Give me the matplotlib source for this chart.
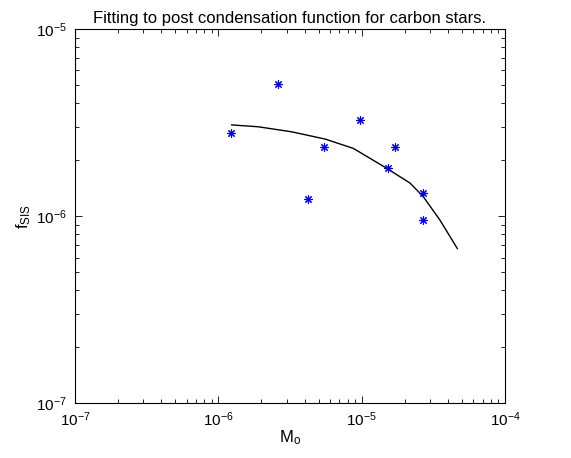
import numpy as np
import matplotlib
matplotlib.use("Agg")
import matplotlib.pyplot as plt

plt.rcParams['font.family'] = ['Liberation Sans', 'DejaVu Sans']
plt.rcParams['mathtext.fontset'] = 'custom'
plt.rcParams['mathtext.rm'] = 'Liberation Sans'
plt.rcParams['mathtext.it'] = 'Liberation Sans:italic'
plt.rcParams['mathtext.bf'] = 'Liberation Sans:bold'

# measured points
m_obs = [1.23e-6, 2.62e-6, 5.44e-6, 4.25e-6, 9.8e-6, 1.72e-5, 1.52e-5, 2.67e-5, 2.67e-5]
f_obs = [2.79e-6, 5.06e-6, 2.34e-6, 1.24e-6, 3.25e-6, 2.34e-6, 1.80e-6, 1.33e-6, 9.5e-7]

# fitted curve
m_fit = [1.24e-6, 1.90e-6, 3.25e-6, 5.55e-6, 8.74e-6, 1.495e-5,
         2.175e-5, 2.69e-5, 3.52e-5, 4.65e-5]
f_fit = [3.07e-6, 3.00e-6, 2.82e-6, 2.58e-6, 2.30e-6, 1.80e-6,
         1.50e-6, 1.27e-6, 9.5e-7, 6.7e-7]

fig = plt.figure(figsize=(5.71, 4.58), dpi=100)
ax = fig.add_axes([0.1313, 0.120, 0.7531, 0.8167])

ax.loglog(m_fit, f_fit, color='black', linewidth=1.0)
ax.loglog(m_obs, f_obs, linestyle='none', marker=(8, 2, 0), color='blue',
          markersize=6, markeredgewidth=0.8)

ax.set_xlim(1e-7, 1e-4)
ax.set_ylim(1e-7, 1e-5)
ax.tick_params(which='both', direction='in', top=True, right=True, labelsize=11)
ax.tick_params(which='major', length=5, width=0.6)
ax.tick_params(which='minor', length=3, width=0.6)
ax.tick_params(axis='x', which='both', pad=5)
ax.tick_params(axis='y', which='both', pad=6)
for s in ax.spines.values():
    s.set_linewidth(0.8)

ax.set_title("Fitting to post condensation function for carbon stars.", fontsize=12, pad=4)
ax.set_xlabel(r"$\mathrm{M_o}$", fontsize=12, labelpad=0)
ax.set_ylabel(r"$\mathrm{f_{SIS}}$", fontsize=12, labelpad=2)

fig.savefig("out.png", dpi=100)
